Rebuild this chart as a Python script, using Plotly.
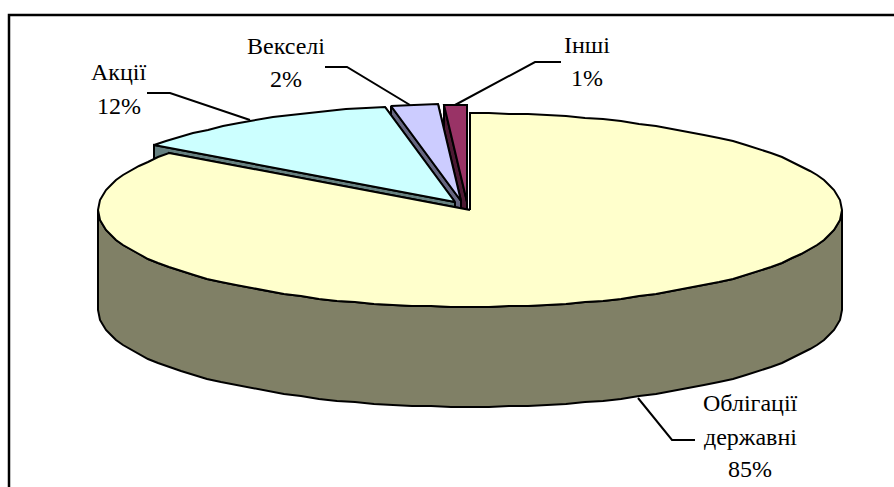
import math
import plotly.graph_objects as go

# Portfolio structure, percent of total
categories = ["Облігації державні", "Акції", "Векселі", "Інші"]
values = [85, 12, 2, 1]
top_colors = ["#FFFFCC", "#CCFFFF", "#CCCCFF", "#993366"]
side_colors = ["#808066", "#668080", "#666680", "#4D1A33"]

# Pie geometry in page pixels
CX, CY = 470, 210
RX, RY = 372, 97
DEPTH = 100
STEP_DEG = 3.0
# Displacement of each exploded slice
offsets = [(0, 0), (-15, -8), (-9, -9), (-3, -8)]

WIDTH, HEIGHT = 894, 487


def pt(deg, ox, oy, drop=0.0):
    a = math.radians(deg)
    return CX + ox + RX * math.sin(a), CY + oy - RY * math.cos(a) + drop


def arc(a0, a1, ox, oy, drop=0.0):
    n = max(1, int(abs(a1 - a0) / STEP_DEG))
    return [pt(a0 + (a1 - a0) * i / n, ox, oy, drop) for i in range(n + 1)]


def poly(fig, points, fill):
    xs = [round(p[0]) for p in points] + [round(points[0][0])]
    ys = [round(p[1]) for p in points] + [round(points[0][1])]
    fig.add_trace(go.Scatter(
        x=xs, y=ys, mode="lines", fill="toself", fillcolor=fill,
        line=dict(color="#000000", width=2), hoverinfo="skip", showlegend=False,
    ))


# Slice angles, clockwise from twelve o'clock
total = sum(values)
spans = []
start = 0.0
for v in values:
    spans.append((start, start + 360.0 * v / total))
    start += 360.0 * v / total

fig = go.Figure()


def draw_slice(fig, i):
    a0, a1 = spans[i]
    ox, oy = offsets[i]
    apex = (CX + ox, CY + oy)
    apex_low = (apex[0], apex[1] + DEPTH)
    # Cut faces
    for edge in (a1, a0):
        p = pt(edge, ox, oy)
        poly(fig, [apex, p, (p[0], p[1] + DEPTH), apex_low], side_colors[i])
    # Outer wall: only the part of the rim facing the viewer
    lo, hi = max(a0, 90.0), min(a1, 270.0)
    if lo < hi:
        poly(fig, arc(lo, hi, ox, oy) + arc(hi, lo, ox, oy, DEPTH), side_colors[i])
    # Top face
    poly(fig, [apex] + arc(a0, a1, ox, oy), top_colors[i])


# Painted back to front so nearer slices cover the rest of the cut faces
for idx in (3, 2, 1, 0):
    draw_slice(fig, idx)

# Leader lines
leaders = [
    [(638, 398), (672, 440), (695, 440)],
    [(147, 93), (170, 93), (250, 120)],
    [(325, 67), (347, 67), (410, 105)],
    [(455, 105), (535, 62), (561, 62)],
]
for path in leaders:
    fig.add_trace(go.Scatter(
        x=[p[0] for p in path], y=[p[1] for p in path], mode="lines",
        line=dict(color="#000000", width=2), hoverinfo="skip", showlegend=False,
    ))

# Label lines, one annotation per line to keep the leading
label_lines = [
    (["Облігації", "державні", f"{values[0]}%"], 750, [403, 437, 469]),
    (["Акції", f"{values[1]}%"], 119, [72, 106]),
    (["Векселі", f"{values[2]}%"], 286, [46, 79]),
    (["Інші", f"{values[3]}%"], 587, [45, 78]),
]
annotations = []
for lines, x, ys in label_lines:
    for text, y in zip(lines, ys):
        annotations.append(dict(
            x=x, y=y, xref="x", yref="y", text=text, showarrow=False,
            xanchor="center", yanchor="middle",
            font=dict(family="Liberation Serif, Times New Roman, serif", size=24, color="#000000"),
        ))

# Frame: left and top edges of the chart area
fig.add_trace(go.Scatter(
    x=[9, 9, WIDTH], y=[HEIGHT, 15, 15], mode="lines",
    line=dict(color="#000000", width=2.5), hoverinfo="skip", showlegend=False,
))

fig.update_layout(
    width=WIDTH, height=HEIGHT,
    margin=dict(l=0, r=0, t=0, b=0),
    paper_bgcolor="#FFFFFF", plot_bgcolor="#FFFFFF",
    xaxis=dict(range=[0, WIDTH], visible=False, fixedrange=True),
    yaxis=dict(range=[HEIGHT, 0], visible=False, fixedrange=True),
    showlegend=False,
    annotations=annotations,
)

fig.write_html("out.html", config=dict(displayModeBar=False))
